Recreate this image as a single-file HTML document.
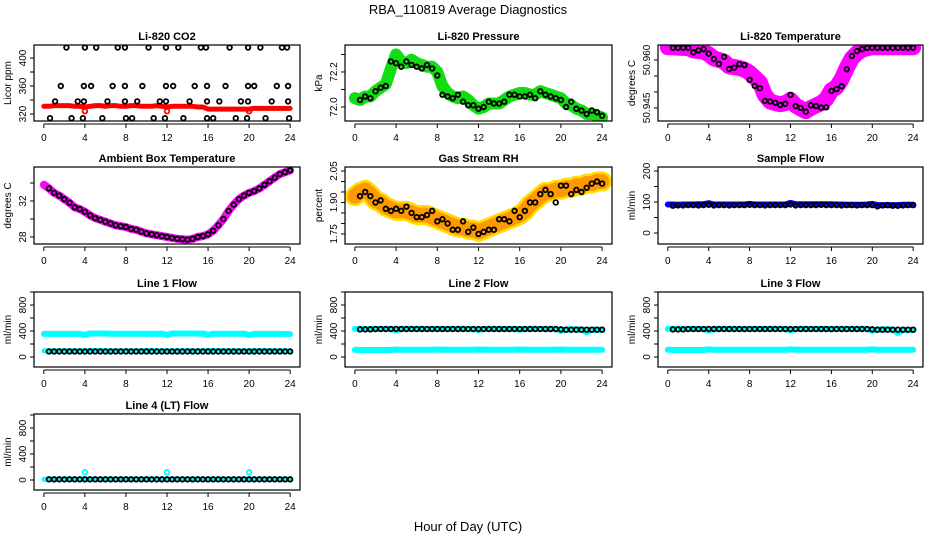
<!DOCTYPE html>
<html><head><meta charset="utf-8"><style>
html,body{margin:0;padding:0;background:#fff}
svg{display:block;font-family:"Liberation Sans",sans-serif}
</style></head><body>
<svg id="fig" width="936" height="540" viewBox="0 0 936 540" xmlns="http://www.w3.org/2000/svg">
<rect width="936" height="540" fill="#fff"/>
<text x="468" y="14" text-anchor="middle" font-size="13">RBA_110819  Average Diagnostics</text>
<text x="468" y="531" text-anchor="middle" font-size="13">Hour of Day (UTC)</text>
</svg>
<script>
const H48 = [0.5,1,1.5,2,2.5,3,3.5,4,4.5,5,5.5,6,6.5,7,7.5,8,8.5,9,9.5,10,10.5,11,11.5,12,12.5,13,13.5,14,14.5,15,15.5,16,16.5,17,17.5,18,18.5,19,19.5,20,20.5,21,21.5,22,22.5,23,23.5,24];
const H49 = [0,0.5,1,1.5,2,2.5,3,3.5,4,4.5,5,5.5,6,6.5,7,7.5,8,8.5,9,9.5,10,10.5,11,11.5,12,12.5,13,13.5,14,14.5,15,15.5,16,16.5,17,17.5,18,18.5,19,19.5,20,20.5,21,21.5,22,22.5,23,23.5,24];
const xTicks = [0,4,8,12,16,20,24];

const co2BlackHours = [2.2,4.0,5.1,7.2,7.9,10.2,11.9,13.1,15.3,15.8,18.1,19.9,21.1,23.2,23.7, 1.65,3.9,4.6,6.7,7.9,9.6,11.9,12.6,14.7,15.9,17.7,19.9,20.5,22.7,23.8, 1.1,3.3,3.9,6.2,7.9,9.1,11.3,11.9,14.2,15.9,17.1,19.2,19.9,22.2,23.8, 0.6,2.7,3.8,5.7,8.0,8.6,10.7,11.8,13.6,15.9,16.5,18.7,19.8,21.6,23.9];
const co2BlackVals = [415,415,415,415,415,415,415,415,415,415,415,415,415,415,415, 360,360,360,360,360,360,360,360,360,360,360,360,360,360,360, 338,338,338,338,338,338,338,338,338,338,338,338,338,338,338, 314,314,314,314,314,314,314,314,314,314,314,314,314,314,314];
const co2Red = [331,331,332,332,332,332,331,331,330,331,332,332,331,332,332,331,331,332,332,331,331,331,332,331,330,331,331,331,331,331,330,330,327,327,327,327,327,327,327,327,327,328,328,328,328,328,328,328,328];
const co2RedOutHours = [4,12,20];
const co2RedOutVals = [324,324,324];

const presBlack = [72.04,72.06,72.05,72.09,72.11,72.12,72.26,72.25,72.23,72.26,72.24,72.23,72.22,72.24,72.22,72.18,72.07,72.06,72.05,72.07,72.03,72.01,72.01,71.99,72.00,72.03,72.02,72.02,72.03,72.07,72.07,72.06,72.06,72.07,72.05,72.09,72.07,72.06,72.05,72.04,72.00,72.03,71.99,71.98,71.96,71.98,71.97,71.95];
const presGreen = [72.05,72.04,72.06,72.06,72.09,72.11,72.13,72.22,72.30,72.26,72.25,72.27,72.25,72.24,72.23,72.23,72.20,72.12,72.08,72.06,72.05,72.06,72.04,72.01,71.99,72.00,72.02,72.02,72.02,72.04,72.06,72.07,72.08,72.08,72.07,72.07,72.09,72.08,72.07,72.06,72.05,72.02,72.01,71.99,71.98,71.96,71.96,71.95,71.94];

const tempBlack = [50.96384,50.96384,50.96384,50.96384,50.9624,50.9630,50.9634,50.9620,50.9603,50.9588,50.9610,50.9572,50.9576,50.9587,50.9584,50.9538,50.9519,50.9512,50.9472,50.9470,50.9466,50.9459,50.9463,50.9491,50.9456,50.9450,50.9438,50.9458,50.9456,50.9451,50.9452,50.9503,50.9509,50.9518,50.9571,50.9613,50.9628,50.9634,50.9638,50.96384,50.96384,50.96384,50.96384,50.96384,50.96384,50.96384,50.96384,50.96384];
const tempMagenta = [50.9640,50.9640,50.9639,50.9638,50.9637,50.9630,50.9628,50.9626,50.9618,50.9605,50.9600,50.9595,50.9580,50.9578,50.9575,50.9570,50.9560,50.9545,50.9530,50.9490,50.9470,50.9465,50.9462,50.9465,50.9475,50.9458,50.9448,50.9440,50.9450,50.9458,50.9465,50.9478,50.9505,50.9515,50.9540,50.9575,50.9605,50.9622,50.9632,50.9637,50.9640,50.9640,50.9640,50.9640,50.9640,50.9640,50.9640,50.9640,50.9640];

const ambBlack = [33.4,32.9,32.6,32.2,31.8,31.3,31.1,30.8,30.4,30.1,29.9,29.7,29.5,29.3,29.2,29.1,28.9,28.8,28.6,28.4,28.3,28.2,28.1,28.0,27.9,27.8,27.75,27.7,27.8,28.0,28.1,28.3,28.7,29.3,30.0,30.9,31.6,32.2,32.6,32.9,33.1,33.4,33.8,34.2,34.6,35.0,35.2,35.4];
const ambMagenta = [33.8,33.4,32.9,32.6,32.2,31.8,31.3,31.1,30.8,30.4,30.1,29.9,29.7,29.5,29.3,29.2,29.1,28.9,28.8,28.6,28.4,28.3,28.2,28.1,28.0,27.9,27.8,27.75,27.7,27.8,28.0,28.1,28.3,28.7,29.3,30.0,30.9,31.6,32.2,32.6,32.9,33.1,33.4,33.8,34.2,34.6,35.0,35.2,35.4];

const rhBlack = [1.93,1.95,1.93,1.90,1.91,1.87,1.86,1.87,1.86,1.88,1.85,1.83,1.83,1.84,1.86,1.81,1.82,1.80,1.77,1.77,1.81,1.76,1.78,1.75,1.76,1.77,1.77,1.82,1.82,1.81,1.86,1.83,1.86,1.90,1.90,1.94,1.96,1.94,1.90,1.98,1.98,1.94,1.96,1.95,1.97,1.99,2.00,1.99];
const rhOrange = [1.93,1.95,1.96,1.94,1.91,1.90,1.88,1.87,1.86,1.86,1.86,1.85,1.84,1.84,1.84,1.83,1.82,1.81,1.80,1.79,1.78,1.78,1.77,1.77,1.76,1.77,1.78,1.79,1.80,1.81,1.82,1.83,1.84,1.86,1.89,1.91,1.93,1.95,1.95,1.96,1.96,1.97,1.97,1.98,1.98,1.99,1.99,2.00,2.00];

const sfBlack = [88,89,89,90,90,89,90,91,89,90,90,89,90,90,90,91,90,90,89,90,90,90,90,92,89,90,90,90,90,91,90,90,90,89,90,90,89,90,90,90,86,89,90,88,88,89,90,90];
const sfBlue = [92,92,91,92,92,92,93,93,96,92,92,92,92,92,92,92,94,92,92,92,92,92,92,92,97,93,93,93,93,93,93,93,93,92,92,91,91,91,91,92,94,90,90,90,90,90,91,91,91];

const l1CyanHigh = [355,355,355,355,355,355,355,355,340,362,362,362,362,358,358,358,358,358,358,358,358,358,358,358,340,362,362,362,362,362,360,360,342,358,358,358,358,358,358,358,338,355,355,355,355,355,355,355,352];
const l1CyanLow = [95,97,97,97,97,97,97,97,97,100,100,100,97,97,97,97,97,97,97,97,100,100,97,97,97,97,97,97,97,97,97,97,100,100,100,97,97,97,97,97,97,97,100,100,97,97,97,97,97];
const l1Black = [85,85,85,85,85,85,85,85,85,85,85,85,85,85,85,85,85,85,85,85,85,85,85,85,85,85,85,85,85,85,85,85,85,85,85,85,85,85,85,85,85,85,85,85,85,85,85,85];

const l2CyanHigh = [432,432,432,432,432,432,432,432,410,432,432,432,432,432,432,432,432,432,432,432,432,432,432,432,412,432,432,432,432,432,432,432,420,432,432,432,432,432,432,432,400,425,425,425,425,380,420,420,420];
const l2CyanLow = [110,108,108,108,108,108,108,108,115,110,110,110,110,110,110,110,115,110,110,110,110,110,110,110,115,110,110,110,110,110,110,110,115,110,110,110,110,110,110,110,115,110,110,110,110,110,110,110,110];
const l2Black = [425,425,425,430,430,430,430,432,430,430,430,430,430,430,430,430,430,430,430,430,430,430,430,430,430,430,430,430,430,430,430,430,430,430,430,430,430,430,430,425,420,420,420,420,420,420,420,420];

const l3CyanHigh = [432,432,432,432,432,432,432,432,405,432,432,432,432,432,432,432,432,432,432,432,432,432,432,432,410,432,432,432,432,432,432,432,425,432,432,432,432,432,432,432,405,425,425,425,425,370,415,415,415];
const l3CyanLow = [110,108,108,108,108,108,108,108,118,110,110,110,110,110,110,110,112,110,110,110,110,110,110,110,118,110,110,110,110,110,110,110,112,110,110,110,110,110,110,110,118,110,110,110,110,110,110,110,110];
const l3Black = [425,425,425,430,430,430,430,432,430,430,430,430,430,430,430,430,430,430,430,430,430,430,430,430,430,430,430,430,430,430,430,430,430,430,430,430,430,430,430,425,420,420,420,420,420,420,420,420];

const l4Cyan = [10,10,10,10,10,10,10,10,10,10,10,10,10,10,10,10,10,10,10,10,10,10,10,10,10,10,10,10,10,10,10,10,10,10,10,10,10,10,10,10,10,10,10,10,10,10,10,10,10];
const l4Black = [10,10,10,10,10,10,10,10,10,10,10,10,10,10,10,10,10,10,10,10,10,10,10,10,10,10,10,10,10,10,10,10,10,10,10,10,10,10,10,10,10,10,10,10,10,10,10,10];
const l4OutHours = [4,12,20];
const l4OutVals = [120,120,120];

const NS = 'http://www.w3.org/2000/svg';
const fig = document.getElementById('fig');
function mk(tag, attrs, parent){ const e=document.createElementNS(NS,tag); for(const k in attrs) e.setAttribute(k,attrs[k]); (parent||fig).appendChild(e); return e; }

const cols = [[34,300],[345,612],[658,923]];
const rows = [[45,121],[167,244],[292,367],[414,490]];

function panel(name, title, ylab, c, r, ymin, ymax, yTicks, yLabels, slug){
  const [L,R]=cols[c], [T,B]=rows[r];
  const g = mk('g',{});
  
  
  const xs = h => L + (h+0.96)/25.92*(R-L);
  const ys = v => B - (v-ymin)/(ymax-ymin)*(B-T);
  const t = mk('text',{x:(L+R)/2,y:T-5,'text-anchor':'middle','font-size':11,'font-weight':'bold'},g);
  t.textContent = title;
  
  
  const yl = mk('text',{transform:`translate(${L-23},${(T+B)/2}) rotate(-90)`,'text-anchor':'middle','font-size':10},g);
  yl.textContent = ylab;
  
  
  const clip = mk('clipPath',{id:'cp'+slug},g);
  mk('rect',{x:L,y:T,width:R-L,height:B-T},clip);
  const plot = mk('g',{'clip-path':`url(#cp${slug})`},g);
  
  
  const xa = mk('g',{},g);
  
  
  mk('line',{x1:xs(xTicks[0]),x2:xs(xTicks[xTicks.length-1]),y1:B+3,y2:B+3,stroke:'#000'},xa);
  xTicks.forEach(v=>{
    mk('line',{x1:xs(v),x2:xs(v),y1:B+3,y2:B+7,stroke:'#000'},xa);
    const tx = mk('text',{x:xs(v),y:B+20,'text-anchor':'middle','font-size':10},xa);
    tx.textContent = v;
  });
  const ya = mk('g',{},g);
  
  
  yTicks.forEach(v=>{
    const y=ys(v);
    if(y<T-1||y>B+1) return;
    mk('line',{x1:L-4,x2:L,y1:y,y2:y,stroke:'#000'},ya);
  });
  mk('line',{x1:L,x2:L,y1:Math.max(T,ys(yTicks[yTicks.length-1])),y2:Math.min(B,ys(yTicks[0])),stroke:'#000'},ya);
  yLabels.forEach(v=>{
    const y=ys(v);
    const ty = mk('text',{transform:`translate(${L-8},${y}) rotate(-90)`,'text-anchor':'middle','font-size':10},ya);
    ty.textContent = v;
  });
  const box = mk('rect',{x:L,y:T,width:R-L,height:B-T,fill:'none',stroke:'#000','stroke-width':1.2},g);
  
  
  return {plot,xs,ys};
}
function band(p, hrs, vals, color, w, nm){
  const pts = hrs.map((h,i)=>p.xs(h).toFixed(1)+','+p.ys(vals[i]).toFixed(1)).join(' ');
  const pl = mk('polyline',{points:pts,fill:'none',stroke:color,'stroke-width':w,'stroke-linecap':'round','stroke-linejoin':'round'},p.plot);
  
  
}
function dots(p, hrs, vals, color, nm, r){
  const g = mk('g',{},p.plot);
  
  
  hrs.forEach((h,i)=>{
    mk('circle',{cx:p.xs(h),cy:p.ys(vals[i]),r:r||2.3,fill:'none',stroke:color,'stroke-width':1.8},g);
  });
}

let p;
p = panel('co2','Li-820 CO2','Licor ppm',0,0,310,418.6,[320,340,360,380,400],[320,360,400],'co2');
band(p,H49,co2Red,'#ff0000',5,'co2-red-series');
dots(p,co2RedOutHours,co2RedOutVals,'#ff0000','co2-red-outliers');
dots(p,co2BlackHours,co2BlackVals,'#000','co2-average-points');

p = panel('pres','Li-820 Pressure','kPa',1,0,71.92,72.354,[72.0,72.1,72.2,72.3],['72.0','72.2'],'pressure');
band(p,H49,presGreen,'#11dd11',12,'pressure-green-series');
dots(p,H48,presBlack,'#000','pressure-average-points');

p = panel('temp','Li-820 Temperature','degrees C',2,0,50.9409,50.9647,[50.940,50.945,50.950,50.955,50.960],['50.945','50.960'],'li820-temp');
band(p,H49,tempMagenta,'#ff00ff',16,'li820-temp-magenta-series');
dots(p,H48,tempBlack,'#000','li820-temp-average-points');

p = panel('amb','Ambient Box Temperature','degrees C',0,1,27.22,35.78,[28,30,32,34],[28,32],'ambient-temp');
band(p,H49,ambMagenta,'#ff00ff',8,'ambient-temp-magenta-series');
dots(p,H48,ambBlack,'#000','ambient-temp-average-points');

p = panel('rh','Gas Stream RH','percent',1,1,1.702,2.069,[1.75,1.80,1.85,1.90,1.95,2.00,2.05],['1.75','1.90','2.05'],'gas-rh');
band(p,H49,rhOrange,'#ffdd00',20,'gas-rh-yellow-series');
band(p,H49,rhOrange,'#ff9900',15,'gas-rh-orange-series');
dots(p,H48,rhBlack,'#000','gas-rh-average-points');

p = panel('sf','Sample Flow','ml/min',2,1,-35.5,212.9,[0,50,100,150,200],[0,100,200],'sample-flow');
band(p,H49,sfBlue,'#0000ff',6,'sample-flow-blue-series');
dots(p,H48,sfBlack,'#000','sample-flow-average-points');

const flowTicks=[0,200,400,600,800,1000], flowLabels=[0,400,800];
p = panel('l1','Line 1 Flow','ml/min',0,2,-154,1000,flowTicks,flowLabels,'line1-flow');
band(p,H49,l1CyanHigh,'#00ffff',6,'line1-cyan-high-series');
band(p,H49,l1CyanLow,'#00ffff',5,'line1-cyan-low-series');
dots(p,H48,l1Black,'#000','line1-average-points');

p = panel('l2','Line 2 Flow','ml/min',1,2,-154,1000,flowTicks,flowLabels,'line2-flow');
band(p,H49,l2CyanHigh,'#00ffff',6,'line2-cyan-high-series');
band(p,H49,l2CyanLow,'#00ffff',6,'line2-cyan-low-series');
dots(p,H48,l2Black,'#000','line2-average-points');

p = panel('l3','Line 3 Flow','ml/min',2,2,-154,1000,flowTicks,flowLabels,'line3-flow');
band(p,H49,l3CyanHigh,'#00ffff',6,'line3-cyan-high-series');
band(p,H49,l3CyanLow,'#00ffff',6,'line3-cyan-low-series');
dots(p,H48,l3Black,'#000','line3-average-points');

p = panel('l4','Line 4 (LT) Flow','ml/min',0,3,-154,1015,flowTicks,flowLabels,'line4-flow');
band(p,H49,l4Cyan,'#00ffff',5,'line4-cyan-series');
dots(p,l4OutHours,l4OutVals,'#00ffff','line4-cyan-outliers');
dots(p,H48,l4Black,'#000','line4-average-points');
</script>
</body></html>
